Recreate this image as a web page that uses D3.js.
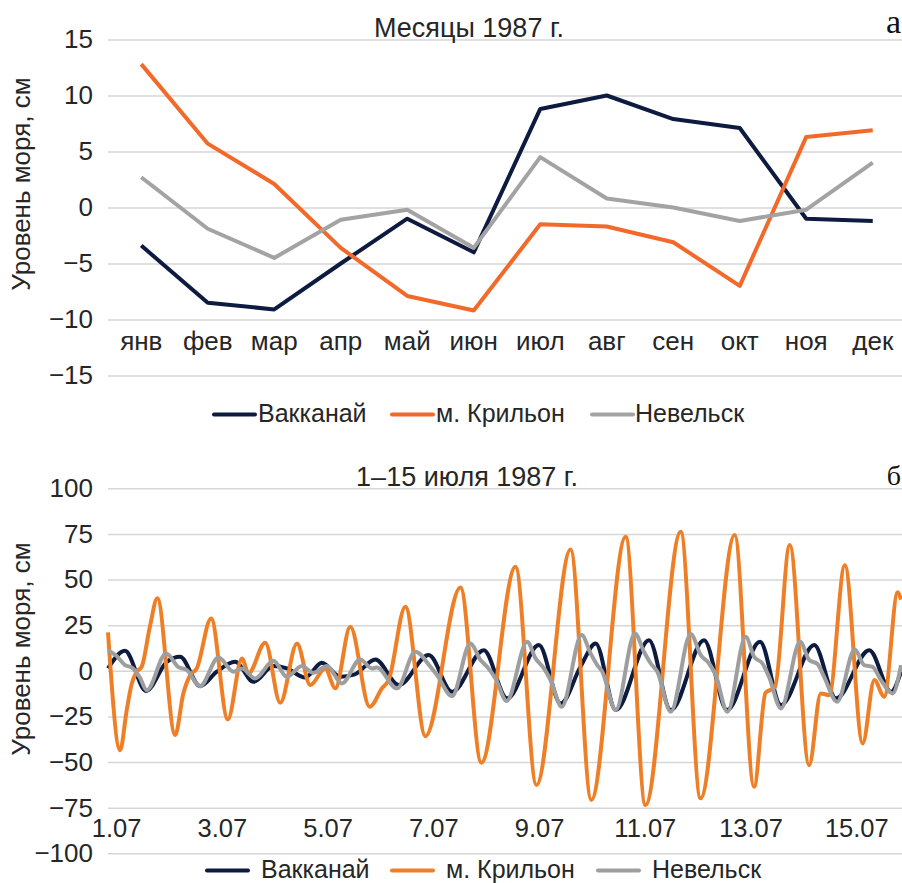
<!DOCTYPE html>
<html>
<head>
<meta charset="utf-8">
<script src="https://cdn.jsdelivr.net/npm/d3@7"></script>
<style>
  body { margin: 0; background: #fff; }
  svg text { font-family: 'Liberation Sans', Arial, sans-serif; fill: #262626; }
  .grid line { stroke: #d6d6d6; stroke-width: 1.5; }
</style>
</head>
<body>
<script>
// panel a: monthly means, 1987
let months = ['янв', 'фев', 'мар', 'апр', 'май', 'июн', 'июл', 'авг', 'сен', 'окт', 'ноя', 'дек']
let vakkanaiMonthly = [-3.4, -8.5, -9.1, -5.0, -1.0, -4.0, 8.8, 10.0, 7.9, 7.1, -1.0, -1.2]
let krilonMonthly = [12.8, 5.7, 2.1, -3.6, -7.9, -9.2, -1.5, -1.7, -3.1, -7.0, 6.3, 6.9]
let nevelskMonthly = [2.7, -1.9, -4.5, -1.1, -0.2, -3.6, 4.5, 0.8, 0.0, -1.2, -0.2, 4.0]
let topTicks = [-15, -10, -5, 0, 5, 10, 15]

let vakkanaiHourly = [
  [0, 1.3], [7.7, 11], [17.3, -11], [26.7, 4.9], [32.7, 7.7], [41.8, -8.4], [49.4, -0.5], [57.7, 4.9],
  [66.1, -6], [75.1, 2.6], [81.2, 1.3], [89.5, -3.7], [97.1, 4.4], [105.5, -3.3], [112, -2], [121.4, 6.2],
  [132, -7.8], [145.6, 8.6], [156.2, -11.5], [170.6, 11.3], [181.2, -15.1], [195.6, 14.1], [205.5, -17.9],
  [214.5, 2.2], [221.4, 15], [230.5, -21.5], [245.6, 16.8], [255.5, -21.5], [270.6, 16.8], [281, -21.5],
  [296, 15.9], [305.5, -18.8], [320.6, 14.1], [330.5, -15.1], [345.6, 11.3], [355.5, -11.5], [360, -0.5]
]
let krilonHourly = [
  [0, 21], [5.5, -43.5], [8.5, -21.5], [10.8, -7], [13, -0.5], [15.3, 2.2], [19, 24], [22.4, 39.7],
  [30.5, -35.2], [34.2, -12.4], [37.3, -2.4], [40.3, 1.3], [46.8, 28.7], [54.4, -26.6], [60.8, 6.8],
  [63.8, -1.4], [71.4, 15.4], [78.2, -17.5], [85.8, 15.0], [91.8, -7.8], [98.6, 1.3], [103.2, -9.6],
  [110, 24.1], [118.8, -19.7], [124.4, -9.6], [127.4, -5.1], [135, 35.1], [144.1, -35.8], [160, 45.7],
  [169.5, -50.4], [185, 57], [194.5, -62.6], [210, 66.5], [219.4, -70.8], [235, 73.4], [244, -73.6],
  [260, 76.2], [269, -69.9], [284.5, 74.4], [293.3, -63.6], [298.5, -12], [302.8, -9], [309.5, 68.9],
  [318.3, -51.7], [323.6, -12.4], [327.4, -13.3], [334.5, 57.9], [342.6, -39.8], [347.9, -5.1],
  [352.4, -14.2], [358.5, 43], [360, 39]
]
let nevelskHourly = [
  [0, 11.3], [3.8, 8.2], [7.6, 3.3], [11.4, 1.3], [14.4, -3.5], [17.6, -10.6], [26.4, 9.5], [32, 2],
  [35.8, 0.4], [41.8, -8.4], [50.2, 7.3], [57, -0.5], [60.8, 1.3], [66.8, -4.2], [75.1, 5.5], [81.2, -3.3],
  [88, 2.6], [93.3, -1.1], [99.4, 2.6], [106.2, -6.9], [114.5, 6.2], [119.9, 1.3], [122, 1.8], [131.2, -9.6],
  [139.5, 10.4], [146.4, 2.2], [149.4, -2.4], [156.2, -13.9], [164.5, 15], [169.1, 5.9], [172.1, 2.2],
  [175.9, -4.2], [181, -16.5], [190.3, 15.9], [194.1, 6.8], [197.9, 1.3], [200.9, -5.1], [206, -19.7],
  [215, 19.6], [219.1, 9.5], [222.1, 3.1], [224.4, -0.5], [230.5, -21.5], [239.2, 20.5], [243.3, 10.4],
  [246.4, 4], [249.4, -0.5], [255.5, -22.4], [264.5, 20.1], [269.1, 8.6], [272.9, 4], [275.9, -2.4],
  [281.2, -22.4], [289.5, 18.6], [293.3, 7.7], [297.1, 4], [300.1, -3.3], [305.5, -20.6], [314.2, 15.9],
  [318.3, 5.9], [322.1, 3.7], [325.1, -3.3], [331, -17], [339, 11.7], [343.3, 3.1], [347.1, 2.2],
  [350.9, -5.1], [356.2, -12.4], [360, 3.1]
]
let dayLabels = ['1.07', '3.07', '5.07', '7.07', '9.07', '11.07', '13.07', '15.07']
let bottomTicks = [-100, -75, -50, -25, 0, 25, 50, 75, 100]

let seriesNames = ['Вакканай', 'м. Крильон', 'Невельск']

let width = 902, height = 883
let left = 108, right = 906

let svg = d3.select('body').append('svg')
  .attr('width', width).attr('height', height)

// ---------- panel a ----------
let xMonth = d3.scaleBand().domain(months).range([left, right])
let yTop = d3.scaleLinear().domain([-15, 15]).range([375.5, 39.5])
let topColors = ['#0c1b3f', '#f2692a', '#a3a3a3']

svg.append('g')
  .attr('class', 'grid')
  .attr('transform', `translate(${left},0)`)
  .call(d3.axisLeft(yTop).tickValues(topTicks).tickSize(-(width - left)).tickPadding(15))
  .call(g => g.select('.domain').remove())
  .call(g => g.selectAll('text').style('font-size', '26px'))

svg.append('g')
  .attr('transform', `translate(0,${yTop(-10)})`)
  .call(d3.axisBottom(xMonth).tickSize(0).tickPadding(12))
  .call(g => g.select('.domain').remove())
  .call(g => g.selectAll('text').style('font-size', '26px'))

let monthLine = d3.line()
  .x((d, i) => xMonth(months[i]) + xMonth.bandwidth() / 2)
  .y(d => yTop(d))

;[vakkanaiMonthly, krilonMonthly, nevelskMonthly].forEach((s, i) => {
  svg.append('path')
    .datum(s)
    .attr('fill', 'none')
    .attr('stroke', topColors[i])
    .attr('stroke-width', 4)
    .attr('stroke-linejoin', 'round')
    .attr('d', monthLine)
})

svg.append('text').attr('x', 469).attr('y', 36.5)
  .attr('text-anchor', 'middle').style('font-size', '27px')
  .text('Месяцы 1987 г.')
svg.append('text').attr('x', 901).attr('y', 33)
  .attr('text-anchor', 'end')
  .style('font-family', "'Liberation Serif', 'Times New Roman', serif")
  .style('font-size', '34px').style('fill', '#111')
  .text('а')

svg.append('text')
  .attr('transform', 'translate(30,184) rotate(-90)')
  .attr('text-anchor', 'middle').style('font-size', '26px')
  .text('Уровень моря, см')

// ---------- panel b ----------
let xHour = d3.scaleLinear().domain([0, 360]).range([left, 901])
let yBot = d3.scaleLinear().domain([-100, 100]).range([853.3, 488.3])
let botColors = ['#0c1b3f', '#ef7f27', '#9d9ea0']
let labelShift = 3.7 // Excel centres day labels a few hours after midnight

svg.append('g')
  .attr('class', 'grid')
  .attr('transform', `translate(${left},0)`)
  .call(d3.axisLeft(yBot).tickValues(bottomTicks).tickSize(-(width - left)).tickPadding(15))
  .call(g => g.select('.domain').remove())
  .call(g => g.selectAll('text').style('font-size', '26px'))

svg.append('g')
  .attr('transform', `translate(0,${yBot(-75)})`)
  .call(d3.axisBottom(xHour)
    .tickValues(dayLabels.map(d => (parseInt(d) - 1) * 24 + labelShift))
    .tickFormat((d, i) => dayLabels[i])
    .tickSize(0).tickPadding(11))
  .call(g => g.select('.domain').remove())
  .call(g => g.selectAll('text').style('font-size', '25.5px'))

let hourLine = d3.line()
  .curve(d3.curveMonotoneX)
  .x(d => xHour(d[0]))
  .y(d => yBot(d[1]))

;[vakkanaiHourly, krilonHourly, nevelskHourly].forEach((s, i) => {
  svg.append('path')
    .datum(s)
    .attr('fill', 'none')
    .attr('stroke', botColors[i])
    .attr('stroke-width', 4)
    .attr('stroke-linejoin', 'round')
    .attr('d', hourLine)
})

svg.append('text').attr('x', 467).attr('y', 486)
  .attr('text-anchor', 'middle').style('font-size', '27px')
  .text('1–15 июля 1987 г.')
svg.append('text').attr('x', 901).attr('y', 485)
  .attr('text-anchor', 'end')
  .style('font-family', "'Liberation Serif', 'Times New Roman', serif")
  .style('font-size', '28px').style('fill', '#111')
  .text('б')

svg.append('text')
  .attr('transform', 'translate(30,649) rotate(-90)')
  .attr('text-anchor', 'middle').style('font-size', '26px')
  .text('Уровень моря, см')

// ---------- legends ----------
let legend = (y, colors, pos) => {
  let g = svg.append('g').attr('transform', `translate(0,${y})`)
  seriesNames.forEach((name, i) => {
    g.append('line')
      .attr('x1', pos[i][0]).attr('x2', pos[i][0] + 41)
      .attr('y1', -7).attr('y2', -7)
      .attr('stroke', colors[i]).attr('stroke-width', 4)
      .attr('stroke-linecap', 'round')
    g.append('text')
      .attr('x', pos[i][1]).attr('y', 0)
      .style('font-size', '25px')
      .text(name)
  })
}
legend(421.5, topColors, [[214, 258], [392, 436], [592, 635]])
legend(877.5, botColors, [[207, 261], [392, 446], [598, 652]])
</script>
</body>
</html>
